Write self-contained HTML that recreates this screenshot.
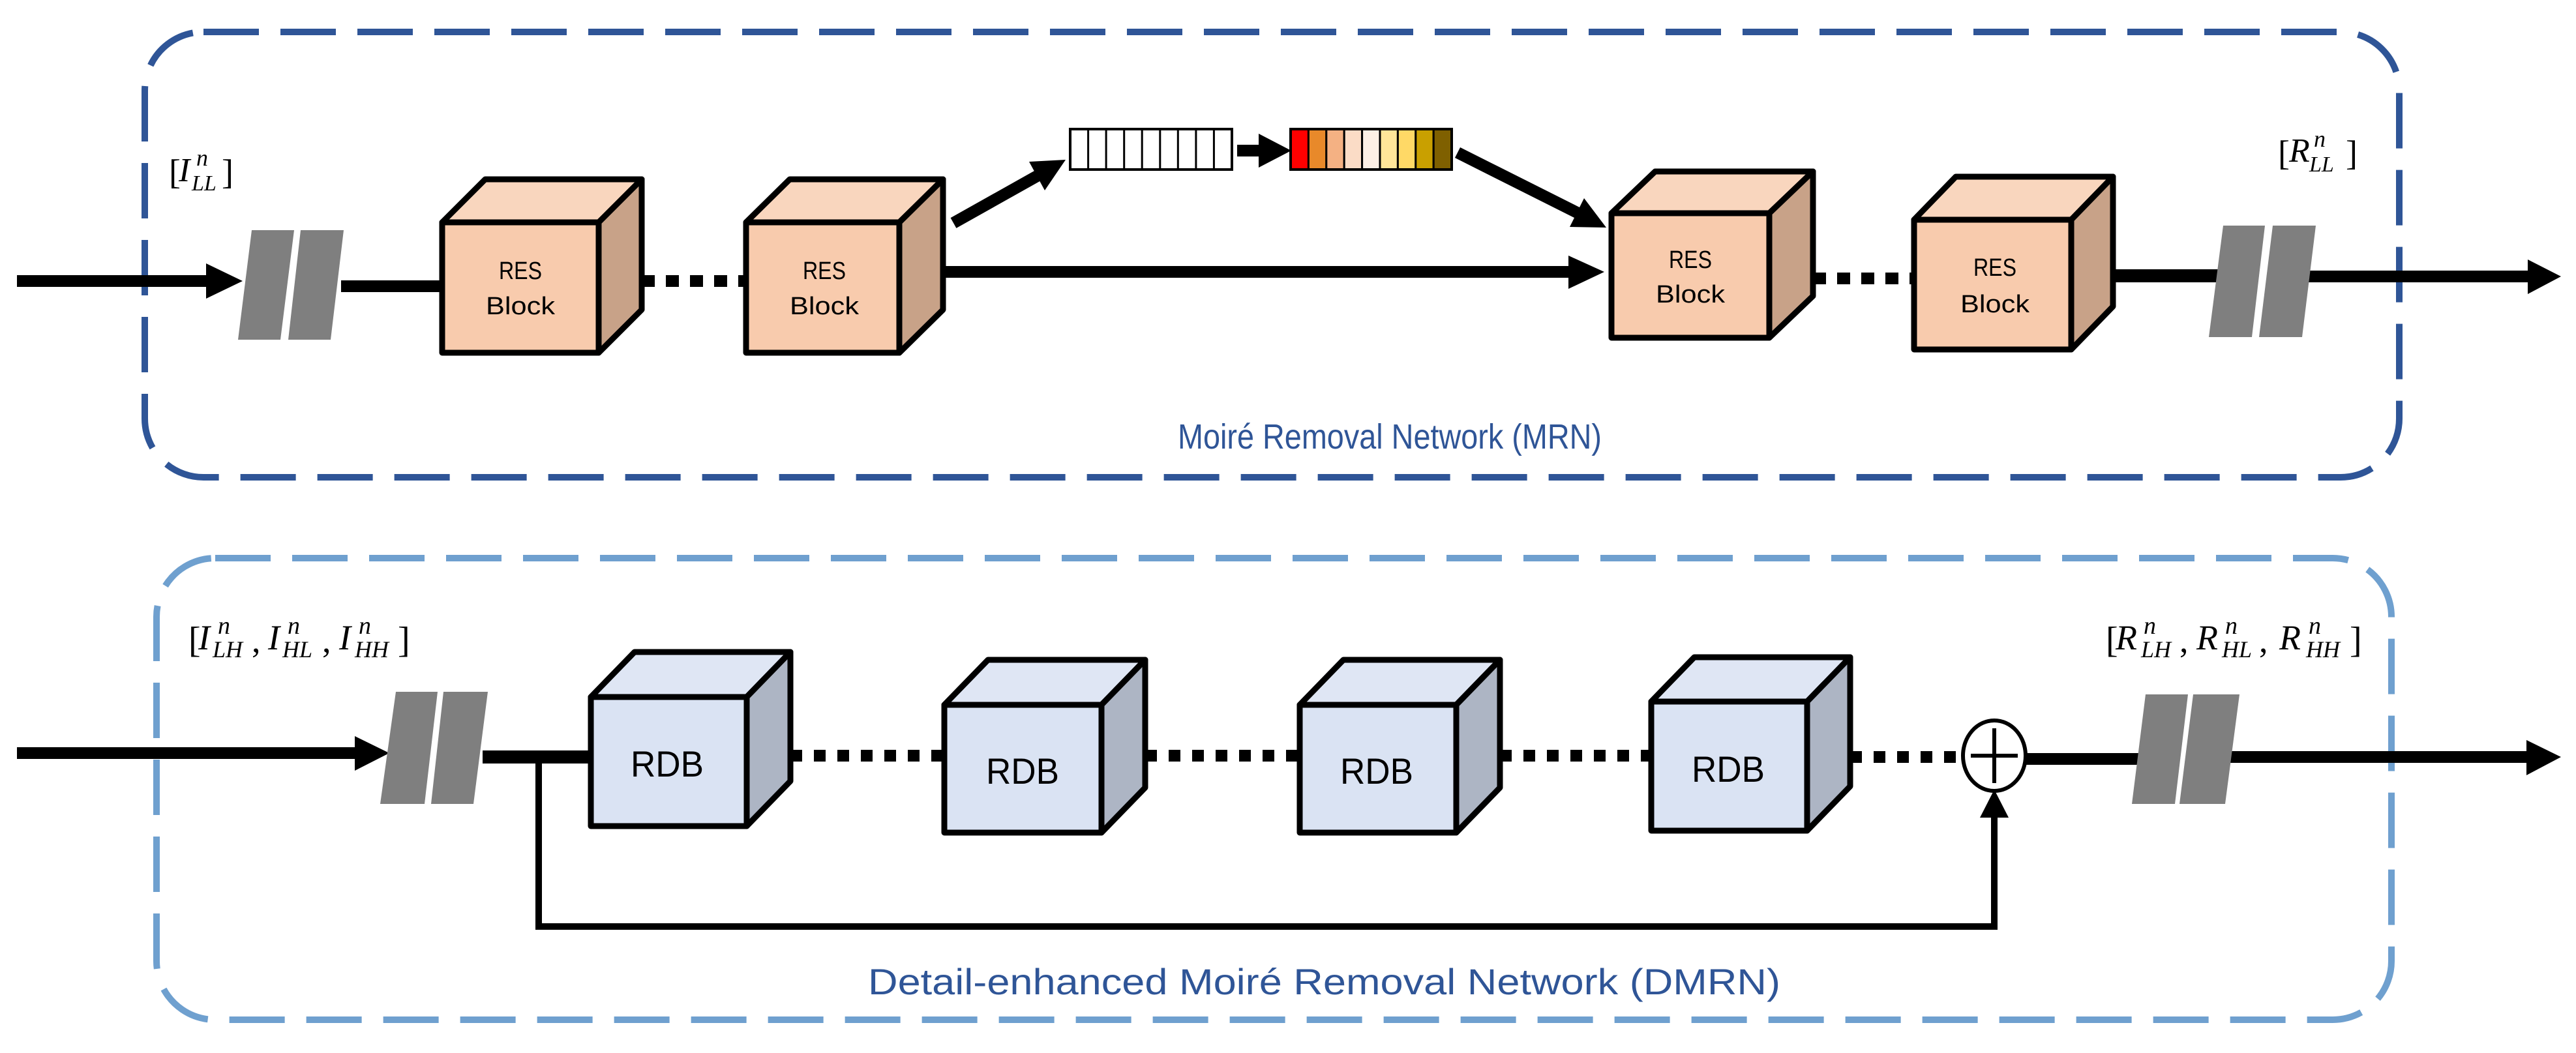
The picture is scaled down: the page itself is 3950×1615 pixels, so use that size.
<!DOCTYPE html>
<html><head><meta charset="utf-8"><style>
html,body{margin:0;padding:0;background:#fff;}
svg{display:block;}
</style></head><body>
<svg width="3950" height="1615" viewBox="0 0 3950 1615" xmlns="http://www.w3.org/2000/svg">
<rect x="0" y="0" width="3950" height="1615" fill="#fff"/>
<rect x="222" y="49" width="3457" height="683" rx="90" fill="none" stroke="#2F5597" stroke-width="10" stroke-dasharray="85 33"/>
<rect x="240" y="856" width="3427" height="708" rx="90" fill="none" stroke="#6FA0CF" stroke-width="10" stroke-dasharray="85 33"/>

<g stroke="#000" stroke-linejoin="miter">
<line x1="26" y1="431" x2="322" y2="431" stroke-width="18"/>
<line x1="523" y1="439" x2="680" y2="439" stroke-width="18"/>
<line x1="984" y1="431" x2="1142" y2="431" stroke-width="18" stroke-dasharray="20 17"/>
<line x1="1440" y1="417" x2="2410" y2="417" stroke-width="18"/>
<line x1="1462" y1="342" x2="1592" y2="269" stroke-width="18"/>
<line x1="2235" y1="234" x2="2420" y2="327" stroke-width="18"/>
<line x1="1897" y1="231" x2="1935" y2="231" stroke-width="18"/>
<line x1="2780" y1="427" x2="2931" y2="427" stroke-width="18" stroke-dasharray="20 17"/>
<line x1="3240" y1="423" x2="3410" y2="423" stroke-width="20"/>
<line x1="3530" y1="424" x2="3880" y2="424" stroke-width="18"/>
<line x1="26" y1="1155" x2="550" y2="1155" stroke-width="18"/>
<line x1="740" y1="1161" x2="908" y2="1161" stroke-width="20"/>
<polyline points="826,1161 826,1421 3058,1421 3058,1250" fill="none" stroke-width="10"/>
<line x1="1212" y1="1159" x2="1448" y2="1159" stroke-width="18" stroke-dasharray="18 18"/>
<line x1="1756" y1="1159" x2="1993" y2="1159" stroke-width="18" stroke-dasharray="18 18"/>
<line x1="2300" y1="1159" x2="2532" y2="1159" stroke-width="18" stroke-dasharray="18 18"/>
<line x1="2837" y1="1161" x2="3010" y2="1161" stroke-width="18" stroke-dasharray="18 18"/>
<line x1="3105" y1="1164" x2="3280" y2="1164" stroke-width="18"/>
<line x1="3410" y1="1161" x2="3880" y2="1161" stroke-width="18"/>
</g>
<g fill="#000">
<polygon points="316,404 372,431 316,458"/>
<polygon points="1602,292 1634,245 1578,248"/>
<polygon points="2407,348 2463,349 2429,304"/>
<polygon points="1930,205 1980,231 1930,257"/>
<polygon points="2405,392 2460,417 2405,443"/>
<polygon points="3876,398 3927,424 3876,451"/>
<polygon points="544,1129 597,1155 544,1182"/>
<polygon points="3036,1254 3058,1211 3080,1254"/>
<polygon points="3874,1135 3927,1161 3874,1189"/>
</g>
<g fill="#7F7F7F">
<polygon points="386,353 451,353 430,521 365,521"/>
<polygon points="461,353 527,353 507,521 442,521"/>
<polygon points="3409,346 3473,346 3453,517 3387,517"/>
<polygon points="3485,346 3551,346 3530,517 3464,517"/>
<polygon points="607,1061 671,1061 651,1233 583,1233"/>
<polygon points="680,1061 748,1061 726,1233 661,1233"/>
<polygon points="3290,1065 3355,1065 3335,1233 3269,1233"/>
<polygon points="3363,1065 3434,1065 3412,1233 3342,1233"/>
</g>

<g stroke="#000" stroke-width="4">
<rect x="1641" y="198" width="248" height="62" fill="#fff"/>
<g fill="none" stroke-width="3">
<line x1="1668.6" y1="198" x2="1668.6" y2="260"/><line x1="1696.1" y1="198" x2="1696.1" y2="260"/>
<line x1="1723.7" y1="198" x2="1723.7" y2="260"/><line x1="1751.2" y1="198" x2="1751.2" y2="260"/>
<line x1="1778.8" y1="198" x2="1778.8" y2="260"/><line x1="1806.3" y1="198" x2="1806.3" y2="260"/>
<line x1="1833.9" y1="198" x2="1833.9" y2="260"/><line x1="1861.4" y1="198" x2="1861.4" y2="260"/>
</g>
<g stroke-width="3">
<rect x="1979" y="198" width="27.4" height="62" fill="#FF0000"/>
<rect x="2006.4" y="198" width="27.4" height="62" fill="#E8892A"/>
<rect x="2033.8" y="198" width="27.4" height="62" fill="#F4B183"/>
<rect x="2061.2" y="198" width="27.4" height="62" fill="#FBDCC6"/>
<rect x="2088.6" y="198" width="27.4" height="62" fill="#FDF0E6"/>
<rect x="2116" y="198" width="27.4" height="62" fill="#FFE699"/>
<rect x="2143.4" y="198" width="27.4" height="62" fill="#FFD966"/>
<rect x="2170.8" y="198" width="27.4" height="62" fill="#C9A000"/>
<rect x="2198.2" y="198" width="27.8" height="62" fill="#7F6000"/>
</g>
<rect x="1979" y="198" width="247" height="62" fill="none"/>
</g>

<g stroke="#000" stroke-width="9" stroke-linejoin="round">
<g>
<polygon points="678,341 744,275 984,275 918,341" fill="#F9D6BE"/>
<polygon points="918,341 984,275 984,475 918,541" fill="#C8A288"/>
<rect x="678" y="341" width="240" height="200" fill="#F8CBAD"/>
</g>
<g>
<polygon points="1144,341 1211,275 1446,275 1379,341" fill="#F9D6BE"/>
<polygon points="1379,341 1446,275 1446,475 1379,541" fill="#C8A288"/>
<rect x="1144" y="341" width="235" height="200" fill="#F8CBAD"/>
</g>
<g>
<polygon points="2471,327 2538,263 2780,263 2713,327" fill="#F9D6BE"/>
<polygon points="2713,327 2780,263 2780,454 2713,518" fill="#C8A288"/>
<rect x="2471" y="327" width="242" height="191" fill="#F8CBAD"/>
</g>
<g>
<polygon points="2935,337 2999,271 3240,271 3176,337" fill="#F9D6BE"/>
<polygon points="3176,337 3240,271 3240,470 3176,536" fill="#C8A288"/>
<rect x="2935" y="337" width="241" height="199" fill="#F8CBAD"/>
</g>
<g>
<polygon points="906,1069 973,1000 1212,1000 1145,1069" fill="#DFE6F4"/>
<polygon points="1145,1069 1212,1000 1212,1198 1145,1267" fill="#ADB5C4"/>
<rect x="906" y="1069" width="239" height="198" fill="#DAE3F3"/>
</g>
<g>
<polygon points="1448,1081 1515,1012 1756,1012 1689,1081" fill="#DFE6F4"/>
<polygon points="1689,1081 1756,1012 1756,1208 1689,1277" fill="#ADB5C4"/>
<rect x="1448" y="1081" width="241" height="196" fill="#DAE3F3"/>
</g>
<g>
<polygon points="1993,1081 2060,1012 2300,1012 2233,1081" fill="#DFE6F4"/>
<polygon points="2233,1081 2300,1012 2300,1208 2233,1277" fill="#ADB5C4"/>
<rect x="1993" y="1081" width="240" height="196" fill="#DAE3F3"/>
</g>
<g>
<polygon points="2532,1076 2598,1008 2837,1008 2771,1076" fill="#DFE6F4"/>
<polygon points="2771,1076 2837,1008 2837,1206 2771,1274" fill="#ADB5C4"/>
<rect x="2532" y="1076" width="239" height="198" fill="#DAE3F3"/>
</g>
</g>

<ellipse cx="3058" cy="1159" rx="48" ry="54" fill="#fff" stroke="#000" stroke-width="6"/>
<line x1="3022" y1="1159" x2="3094" y2="1159" stroke="#000" stroke-width="6"/>
<line x1="3058" y1="1117" x2="3058" y2="1201" stroke="#000" stroke-width="6"/>

<g font-family="Liberation Sans, sans-serif" fill="#000" text-anchor="middle">
<text x="798" y="428" font-size="38" textLength="66" lengthAdjust="spacingAndGlyphs">RES</text>
<text x="798" y="482" font-size="38" textLength="106" lengthAdjust="spacingAndGlyphs">Block</text>
<text x="1264" y="428" font-size="38" textLength="66" lengthAdjust="spacingAndGlyphs">RES</text>
<text x="1264" y="482" font-size="38" textLength="106" lengthAdjust="spacingAndGlyphs">Block</text>
<text x="2592" y="411" font-size="38" textLength="66" lengthAdjust="spacingAndGlyphs">RES</text>
<text x="2592" y="464" font-size="38" textLength="106" lengthAdjust="spacingAndGlyphs">Block</text>
<text x="3059" y="423" font-size="38" textLength="66" lengthAdjust="spacingAndGlyphs">RES</text>
<text x="3059" y="479" font-size="38" textLength="106" lengthAdjust="spacingAndGlyphs">Block</text>
<text x="1023" y="1191" font-size="56" textLength="112" lengthAdjust="spacingAndGlyphs">RDB</text>
<text x="1568" y="1202" font-size="56" textLength="112" lengthAdjust="spacingAndGlyphs">RDB</text>
<text x="2111" y="1202" font-size="56" textLength="112" lengthAdjust="spacingAndGlyphs">RDB</text>
<text x="2650" y="1199" font-size="56" textLength="112" lengthAdjust="spacingAndGlyphs">RDB</text>
</g>

<g font-family="Liberation Sans, sans-serif" fill="#2F5597">
<text x="1806" y="688" font-size="54" textLength="650" lengthAdjust="spacingAndGlyphs">Moiré Removal Network (MRN)</text>
<text x="1331" y="1525" font-size="56" textLength="1399" lengthAdjust="spacingAndGlyphs">Detail-enhanced Moiré Removal Network (DMRN)</text>
</g>

<g font-family="Liberation Serif, serif" fill="#000">
<text x="259" y="282" font-size="54">[</text>
<text x="274" y="278" font-size="52" font-style="italic">I</text>
<text x="301" y="254" font-size="36" font-style="italic">n</text>
<text x="294" y="292" font-size="34" font-style="italic">LL</text>
<text x="340" y="282" font-size="54">]</text>
<text x="3493" y="253" font-size="54">[</text>
<text x="3510" y="248" font-size="52" font-style="italic">R</text>
<text x="3548" y="225" font-size="36" font-style="italic">n</text>
<text x="3541" y="263" font-size="34" font-style="italic">LL</text>
<text x="3597" y="253" font-size="54">]</text>
<text x="289" y="1000" font-size="56">[</text>
<text x="304" y="996" font-size="54" font-style="italic">I</text>
<text x="334" y="972" font-size="38" font-style="italic">n</text>
<text x="326" y="1008" font-size="36" font-style="italic">LH</text>
<text x="386" y="1000" font-size="54">,</text>
<text x="411" y="996" font-size="54" font-style="italic">I</text>
<text x="441" y="972" font-size="38" font-style="italic">n</text>
<text x="433" y="1008" font-size="36" font-style="italic">HL</text>
<text x="494" y="1000" font-size="54">,</text>
<text x="520" y="996" font-size="54" font-style="italic">I</text>
<text x="550" y="972" font-size="38" font-style="italic">n</text>
<text x="544" y="1008" font-size="36" font-style="italic">HH</text>
<text x="610" y="1000" font-size="56">]</text>
<text x="3229" y="1000" font-size="56">[</text>
<text x="3244" y="996" font-size="54" font-style="italic">R</text>
<text x="3287" y="972" font-size="38" font-style="italic">n</text>
<text x="3283" y="1008" font-size="36" font-style="italic">LH</text>
<text x="3342" y="1000" font-size="54">,</text>
<text x="3368" y="996" font-size="54" font-style="italic">R</text>
<text x="3412" y="972" font-size="38" font-style="italic">n</text>
<text x="3407" y="1008" font-size="36" font-style="italic">HL</text>
<text x="3464" y="1000" font-size="54">,</text>
<text x="3495" y="996" font-size="54" font-style="italic">R</text>
<text x="3540" y="972" font-size="38" font-style="italic">n</text>
<text x="3536" y="1008" font-size="36" font-style="italic">HH</text>
<text x="3603" y="1000" font-size="56">]</text>
</g>
</svg>
</body></html>
